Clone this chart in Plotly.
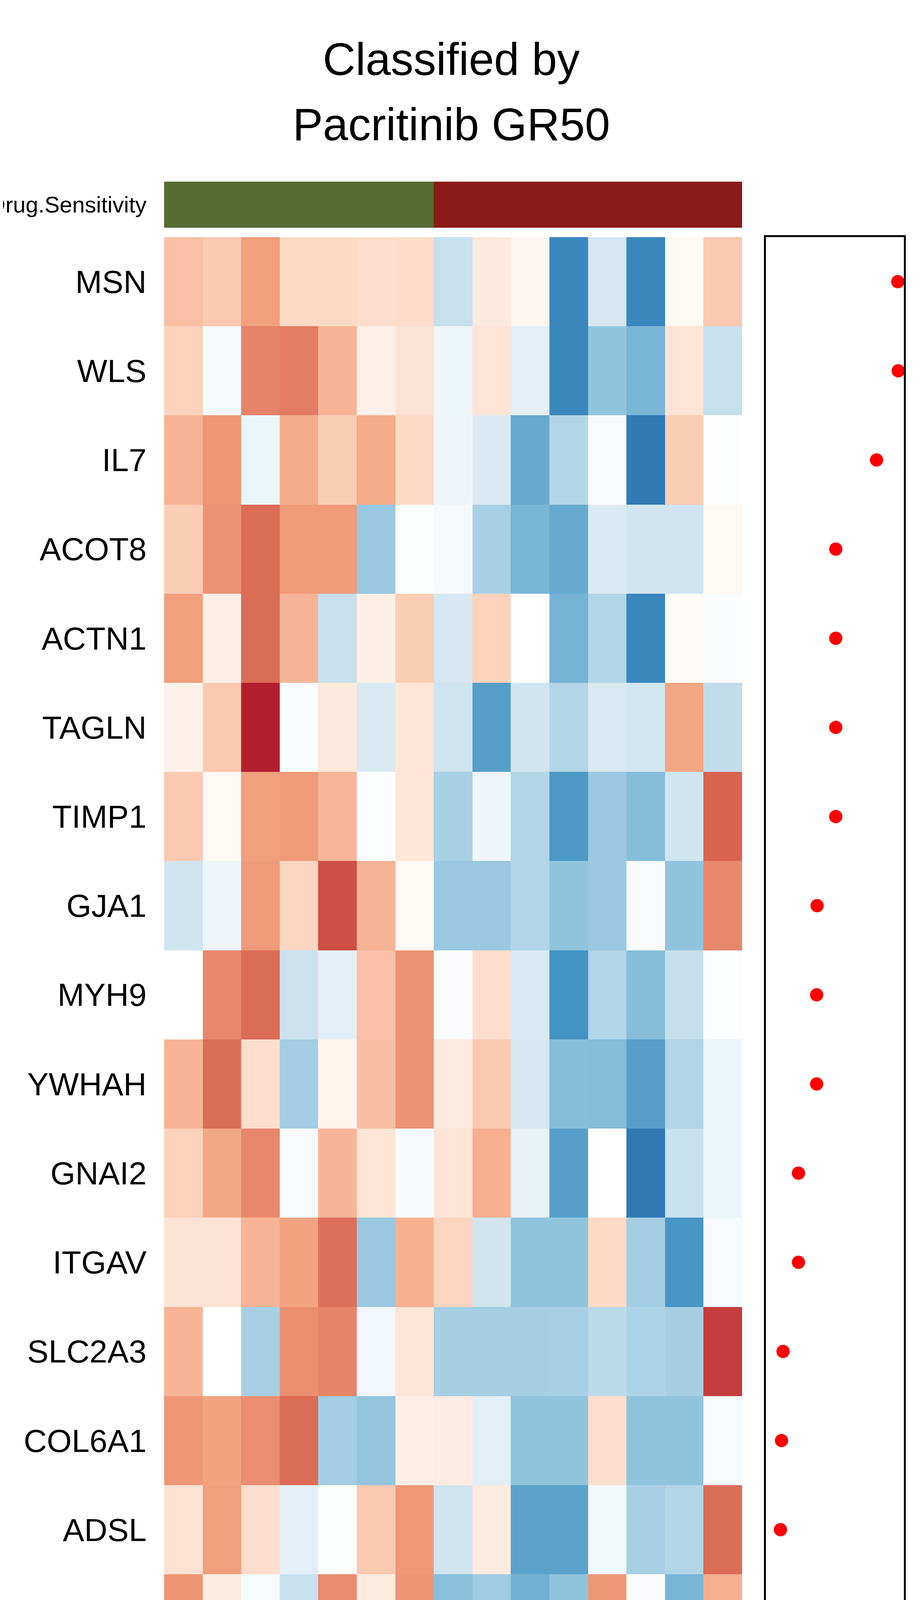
import plotly.graph_objects as go

S = 1.0  # 全体の倍率 (確認用に縮小する時だけ変更)
W, H = 2362, 5905
OFF = 8  # html body の既定マージン
FONT = "Liberation Sans"

genes = ["MSN", "WLS", "IL7", "ACOT8", "ACTN1", "TAGLN", "TIMP1", "GJA1", "MYH9", "YWHAH",
         "GNAI2", "ITGAV", "SLC2A3", "COL6A1", "ADSL", "CASP3", "COL7A1", "IKBKB", "MAPK11"]
cell_lines = ["HuCCT-1", "KKK-D068", "HuH-28", "KKK-D138", "KKU-055", "KKU-156", "KKK-D131",
              "RBE", "KKU-213", "KKU-214", "TFK-1", "SSP-25", "YSCCC", "HuCCA-1", "KKU-100"]
sensitivity = ["Sensitive"] * 7 + ["Resistant"] * 8

expr = [
    [1.0, 0.89, 1.39, 0.68, 0.68, 0.61, 0.64, -0.78, 0.41, 0.16, -2.27, -0.61, -2.27, 0.11, 0.89],
    [0.78, -0.13, 1.65, 1.73, 1.15, 0.27, 0.52, -0.27, 0.48, -0.41, -2.27, -1.35, -1.54, 0.49, -0.78],
    [1.15, 1.47, -0.27, 1.26, 0.84, 1.26, 0.68, -0.24, -0.54, -1.69, -1.0, -0.11, -2.55, 0.84, -0.03],
    [0.84, 1.5, 1.88, 1.43, 1.43, -1.26, -0.04, -0.13, -1.1, -1.54, -1.69, -0.54, -0.68, -0.68, 0.11],
    [1.39, 0.3, 1.88, 1.13, -0.78, 0.3, 0.84, -0.61, 0.78, 0.0, -1.58, -1.0, -2.27, 0.08, -0.08],
    [0.24, 0.89, 2.92, -0.08, 0.41, -0.54, 0.49, -0.7, -1.84, -0.68, -1.0, -0.57, -0.65, 1.31, -0.84],
    [0.89, 0.13, 1.39, 1.43, 1.12, -0.04, 0.48, -1.1, -0.24, -1.0, -1.92, -1.26, -1.43, -0.68, 1.96],
    [-0.68, -0.23, 1.43, 0.73, 2.24, 1.15, 0.13, -1.26, -1.26, -1.0, -1.35, -1.26, -0.11, -1.35, 1.61],
    [0.0, 1.61, 1.88, -0.73, -0.41, 1.0, 1.5, -0.07, 0.61, -0.54, -2.0, -1.0, -1.43, -0.8, -0.05],
    [1.15, 1.88, 0.61, -1.15, 0.2, 1.02, 1.5, 0.38, 0.89, -0.61, -1.43, -1.45, -1.84, -1.0, -0.27],
    [0.78, 1.31, 1.61, -0.11, 1.13, 0.49, -0.13, 0.49, 1.2, -0.34, -1.84, 0.0, -2.55, -0.78, -0.27],
    [0.52, 0.52, 1.15, 1.35, 1.84, -1.26, 1.2, 0.73, -0.68, -1.35, -1.35, 0.68, -1.15, -1.96, -0.11],
    [1.15, 0.0, -1.1, 1.54, 1.65, -0.2, 0.48, -1.12, -1.12, -1.12, -1.1, -0.91, -1.05, -1.12, 2.5],
    [1.47, 1.35, 1.56, 1.88, -1.15, -1.32, 0.32, 0.35, -0.41, -1.35, -1.35, 0.61, -1.35, -1.35, -0.11],
    [0.54, 1.39, 0.61, -0.41, -0.05, 0.89, 1.45, -0.68, 0.38, -1.8, -1.8, -0.18, -1.1, -1.0, 1.88],
    [1.48, 0.38, -0.11, -0.76, 1.58, 0.38, 1.48, -1.41, -1.2, -1.6, -1.35, 1.47, -0.08, -1.53, 1.2],
    [1.05, 1.05, 1.07, 1.56, -1.6, 0.09, 1.39, 0.89, 0.07, -0.41, -0.41, 1.32, -1.61, -1.61, -1.6],
    [0.54, 1.2, -1.0, 3.2, 0.38, 0.11, 0.16, -1.0, -0.61, -1.35, -0.61, -1.26, -0.98, -0.68, 0.73],
    [0.89, 0.04, 2.52, 0.98, 0.85, -1.6, 1.0, -1.35, 0.48, -1.35, -1.6, -0.05, 0.41, -1.1, 0.07],
]

p_values = [7.25, 7.26, 6.76, 5.82, 5.82, 5.82, 5.82, 5.39, 5.38, 5.38,
            4.96, 4.96, 4.605, 4.57, 4.545, 4.54, 4.545, 4.545, 4.36]
p_ticks = [4.5, 5, 5.5, 6, 6.5, 7]
p_ticktext = ["4.5", "5", "5.5", "6", "6.5", "7"]

legend_values = [4, 2, 0, -2, -4]
legend_colors = ["#67001F", "#D6604D", "#FFFFFF", "#4393C3", "#053061"]
sens_levels = ["Sensitive", "Resistant"]
sens_colors = ["#556B2F", "#8B1A1A"]

# RdBu (11色) を -4..4 に割り当て
ramp_values = [-4, -3, -2, -1.33, -0.67, 0, 0.67, 1.33, 2, 3, 4]
ramp_colors = ["#053061", "#2166AC", "#4393C3", "#92C5DE", "#D1E5F0", "#FFFFFF",
               "#FDDBC7", "#F4A582", "#D6604D", "#B2182B", "#67001F"]
colorscale = [[(v + 4) / 8, c] for v, c in zip(ramp_values, ramp_colors)]

FW, FH = round((W - OFF) * S), round((H - OFF) * S)


def px(x):
    return (x - OFF) * S / FW


def py(y):
    return 1 - (y - OFF) * S / FH


def sz(v):
    return round(v * S)


HM_X = [px(420), px(1899)]
HM_Y = [py(4943), py(607)]
ANN_Y = [py(583), py(465)]
PV_X = [px(1960), px(2313)]

fig = go.Figure()

# 1. 発現量ヒートマップ
fig.add_trace(
    go.Heatmap(
        z=expr, x=cell_lines, y=genes, colorscale=colorscale, zmin=-4, zmax=4,
        showscale=False, xaxis="x", yaxis="y",
    )
)

# 2. 薬剤感受性アノテーション
fig.add_trace(
    go.Heatmap(
        z=[[sens_levels.index(s) for s in sensitivity]], x=cell_lines, y=["Drug.Sensitivity"],
        colorscale=[[0, sens_colors[0]], [0.5, sens_colors[0]], [0.5, sens_colors[1]], [1, sens_colors[1]]],
        zmin=0, zmax=1, showscale=False, xaxis="x2", yaxis="y2",
    )
)

# 3. p値パネル
fig.add_trace(
    go.Scatter(
        x=p_values, y=genes, mode="markers", marker={"color": "#FF0000", "size": sz(34)},
        showlegend=False, xaxis="x3", yaxis="y3",
    )
)

common = {"showgrid": False, "zeroline": False, "automargin": False}

fig.update_layout(
    width=FW, height=FH, autosize=False,
    margin={"l": 0, "r": 0, "t": 0, "b": 0, "pad": 0},
    paper_bgcolor="white", plot_bgcolor="white",
    font={"family": FONT, "color": "black"},
    showlegend=False,
    xaxis={
        "domain": HM_X, "anchor": "y", "tickangle": -90, "tickfont": {"size": sz(80)},
        "ticklabelstandoff": sz(42), "ticks": "", **common,
    },
    yaxis={
        "domain": HM_Y, "anchor": "x", "autorange": "reversed", "tickfont": {"size": sz(82)},
        "ticklabelstandoff": sz(44), "ticks": "", **common,
    },
    xaxis2={"domain": HM_X, "anchor": "y2", "showticklabels": False, "ticks": "", **common},
    yaxis2={"domain": ANN_Y, "anchor": "x2", "tickfont": {"size": sz(58)},
            "ticklabelstandoff": sz(44), "ticks": "", **common},
    xaxis3={
        "domain": PV_X, "anchor": "y3", "range": [4.21, 7.39], "tickvals": p_ticks,
        "ticktext": p_ticktext, "tickangle": -90, "tickfont": {"size": sz(39)}, "ticks": "outside",
        "ticklen": sz(27), "tickwidth": sz(4), "tickcolor": "black", "showline": True, "mirror": True,
        "linewidth": sz(5), "linecolor": "black", **common,
    },
    yaxis3={
        "domain": HM_Y, "anchor": "x3", "range": [18.5, -0.5], "showticklabels": False,
        "ticks": "", "showline": True, "mirror": True, "linewidth": sz(5), "linecolor": "black",
        **common,
    },
)


def label(x, y, text, size, anchor="left"):
    fig.add_annotation(x=px(x), y=py(y), xref="paper", yref="paper", text=text, showarrow=False,
                       font={"size": sz(size)}, xanchor=anchor, yanchor="middle")


# タイトル
label(1155, 152, "Classified by", 116, "center")
label(1155, 319, "Pacritinib GR50", 116, "center")
label(2146, 5125, "p.value", 81, "center")

# 凡例 (expr.level)
label(651, 5467, "<b>expr.level</b>", 82)
expr_key_x = [654, 866, 1078, 1291, 1532]
for x0, val, col in zip(expr_key_x, legend_values, legend_colors):
    fig.add_shape(type="rect", xref="paper", yref="paper", x0=px(x0), x1=px(x0 + 88),
                  y0=py(5618), y1=py(5531), fillcolor=col, line={"width": 0})
    label(x0 + 112, 5577, str(val), 80)

# 凡例 (Drug.Sensitivity)
label(651, 5709, "<b>Drug.Sensitivity</b>", 82)
sens_key_x = [654, 1157]
for x0, lab, col in zip(sens_key_x, sens_levels, sens_colors):
    fig.add_shape(type="rect", xref="paper", yref="paper", x0=px(x0), x1=px(x0 + 88),
                  y0=py(5858), y1=py(5771), fillcolor=col, line={"width": 0})
    label(x0 + 116, 5816, lab, 81)

fig.write_html("out.html")
